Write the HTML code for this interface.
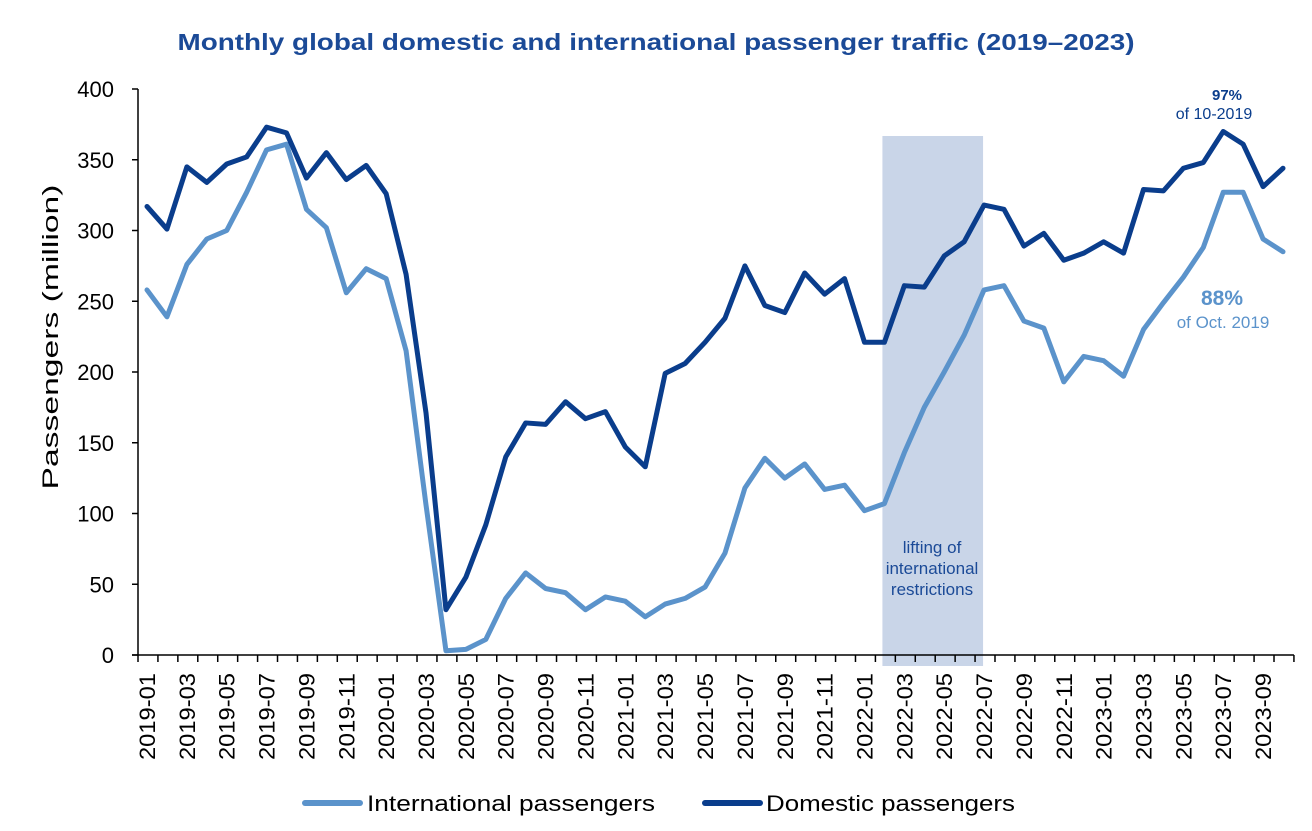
<!DOCTYPE html>
<html><head><meta charset="utf-8"><style>
body{margin:0;background:#fff;}
svg{display:block;font-family:"Liberation Sans",Arial,sans-serif;}
</style></head><body>
<svg id="chart" width="1312" height="831">
<text x="656" y="50" text-anchor="middle" font-size="23" font-weight="bold" fill="#1b4a97" textLength="957" lengthAdjust="spacingAndGlyphs">Monthly global domestic and international passenger traffic  (2019–2023)</text>
<g id="band"></g>
<g id="axes"></g>
<g id="series"></g>
<text x="932" y="553" text-anchor="middle" font-size="17" fill="#1b4a97"><tspan x="932">lifting of</tspan><tspan x="932" dy="21">international</tspan><tspan x="932" dy="21">restrictions</tspan></text>
<text x="1227" y="100" text-anchor="middle" font-size="15" font-weight="bold" fill="#0a3d8c">97%</text>
<text x="1214" y="119" text-anchor="middle" font-size="16" fill="#0a3d8c">of 10-2019</text>
<text x="1222" y="305" text-anchor="middle" font-size="21" font-weight="bold" fill="#5b93cb">88%</text>
<text x="1223" y="328" text-anchor="middle" font-size="17" fill="#5b93cb">of Oct. 2019</text>
<text transform="translate(58,337) rotate(-90)" text-anchor="middle" font-size="22" fill="#000" textLength="305" lengthAdjust="spacingAndGlyphs">Passengers (million)</text>
<line x1="305" y1="803" x2="360" y2="803" stroke="#5b93cb" stroke-width="6" stroke-linecap="round"/>
<text x="367" y="811" font-size="22" fill="#000" textLength="288" lengthAdjust="spacingAndGlyphs">International passengers</text>
<line x1="705" y1="803" x2="760" y2="803" stroke="#0a3d8c" stroke-width="6" stroke-linecap="round"/>
<text x="766" y="811" font-size="22" fill="#000" textLength="249" lengthAdjust="spacingAndGlyphs">Domestic passengers</text>
</svg>
<script>
const yTicks=[0,50,100,150,200,250,300,350,400];
const startYear=2019, monthCount=58;
const international=[258,239,276,294,300,327,357,361,315,302,256,273,
266,215,106,3,4,11,40,58,47,44,32,41,
38,27,36,40,48,72,118,139,125,135,117,120,
102,107,143,175,200,226,258,261,236,231,193,211,
208,197,230,249,267,288,327,327,294,285];
const domestic=[317,301,345,334,347,352,373,369,337,355,336,346,
326,269,171,32,55,92,140,164,163,179,167,172,
147,133,199,206,221,238,275,247,242,270,255,266,
221,221,261,260,282,292,318,315,289,298,279,284,
292,284,329,328,344,348,370,361,331,344];
const bandStart=36.9, bandEnd=41.95; // month index range of shaded band

const NS="http://www.w3.org/2000/svg";
const x0=138, step=19.93, yBase=655, yTop=89;
const xPos=i=>147+i*step;
const yPos=v=>yBase-(v/400)*(yBase-yTop);
function mk(tag,attrs,parent){const e=document.createElementNS(NS,tag);for(const k in attrs)e.setAttribute(k,attrs[k]);parent.appendChild(e);return e;}
const axes=document.getElementById('axes'), series=document.getElementById('series'), band=document.getElementById('band');

const r=mk('rect',{x:xPos(bandStart),y:136,width:xPos(bandEnd)-xPos(bandStart),height:530,fill:'#c9d5e8'},band);



const ya=mk('line',{x1:x0,y1:yTop,x2:x0,y2:yBase,stroke:'#000','stroke-width':1.5},axes);


yTicks.forEach(v=>{
  mk('line',{x1:x0-6,y1:yPos(v),x2:x0,y2:yPos(v),stroke:'#000','stroke-width':1.5},axes);
  const t=mk('text',{x:x0-24,y:yPos(v)+8,'text-anchor':'end','font-size':22,fill:'#000'},axes);
  t.textContent=v;
  
  
});
const xa=mk('line',{x1:x0-6,y1:yBase,x2:x0+monthCount*step,y2:yBase,stroke:'#000','stroke-width':1.5},axes);


for(let i=0;i<=monthCount;i++){
  const tx=x0+i*step;
  mk('line',{x1:tx,y1:yBase,x2:tx,y2:yBase+7,stroke:'#000','stroke-width':1.5},axes);
}
for(let i=0;i<monthCount;i+=2){
  const yr=startYear+Math.floor(i/12), m=i%12+1;
  const lbl=yr+'-'+(m<10?'0'+m:m);
  const t=mk('text',{transform:`translate(${xPos(i)+8},${yBase+18}) rotate(-90)`,'text-anchor':'end','font-size':22,fill:'#000',textLength:87,lengthAdjust:'spacingAndGlyphs'},axes);
  t.textContent=lbl;
  
  
}
function line(data,color,name){
  const p=mk('polyline',{points:data.map((v,i)=>xPos(i)+','+yPos(v)).join(' '),fill:'none',stroke:color,'stroke-width':5,'stroke-linejoin':'round','stroke-linecap':'round'},series);
  
  
}
line(international,'#5b93cb','international-line');
line(domestic,'#0a3d8c','domestic-line');
</script>
</body></html>
